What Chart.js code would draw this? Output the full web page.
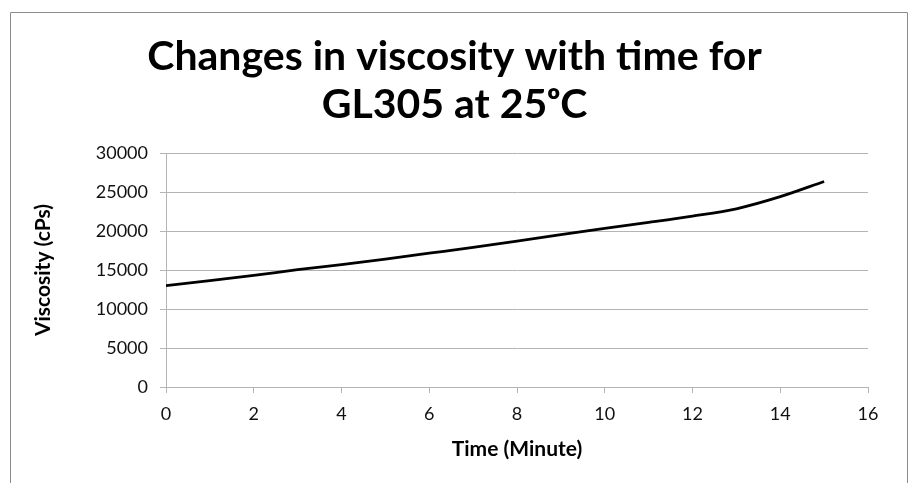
<!DOCTYPE html>
<html>
<head>
<meta charset="utf-8">
<script src="https://cdn.jsdelivr.net/npm/chart.js@4"></script>
<style>
  html, body { margin: 0; padding: 0; background: #fff; }
  #wrap { width: 909px; height: 483px; }
</style>
</head>
<body>
<div id="wrap"><canvas id="viscChart" width="909" height="483"></canvas></div>
<script>
// Viscosity of GL305 at 25 C
const timeMin = [0, 1, 2, 3, 4, 5, 6, 7, 8, 9, 10, 11, 12, 13, 14, 15];
const viscosity = [13000, 13650, 14300, 15050, 15700, 16400, 17150, 17900, 18700, 19550, 20350, 21100, 21900, 22850, 24400, 26350];
const xTicks = [0, 2, 4, 6, 8, 10, 12, 14, 16];
const yTicks = [0, 5000, 10000, 15000, 20000, 25000, 30000];

const points = timeMin.map((t, i) => ({ x: t, y: viscosity[i] }));

// thin grey frame round the whole chart (bottom edge is off the picture)
const frame = {
  id: "frame",
  beforeDraw(chart) {
    const c = chart.ctx;
    c.save();
    c.strokeStyle = "#8c8c8c";
    c.lineWidth = 1;
    c.beginPath();
    c.moveTo(10.5, 490);
    c.lineTo(10.5, 12.5);
    c.lineTo(907.5, 12.5);
    c.lineTo(907.5, 490);
    c.stroke();
    c.restore();
  }
};

const gridGrey = "#b4b4b4";
const tickFont = { family: "Lato", size: 18 };
const axisTitleFont = { family: "Lato", size: 21, weight: "bold" };

new Chart(document.getElementById("viscChart"), {
  type: "scatter",
  data: {
    datasets: [{
      data: points,
      showLine: true,
      borderColor: "#000",
      borderWidth: 2.8,
      pointRadius: 0,
      cubicInterpolationMode: "monotone"
    }]
  },
  options: {
    responsive: false,
    animation: false,
    layout: { padding: 0 },
    plugins: {
      legend: { display: false },
      tooltip: { enabled: false },
      title: {
        display: true,
        text: ["Changes in viscosity with time for", "GL305 at 25\u1D52C"],
        color: "#000",
        font: { family: "Lato", size: 41, weight: "bold", lineHeight: "48px" },
        padding: { top: 33, bottom: 24 }
      }
    },
    scales: {
      x: {
        type: "linear",
        min: 0,
        max: 16,
        afterFit(scale) { scale.height = 96; },
        afterBuildTicks(scale) { scale.ticks = xTicks.map(v => ({ value: v })); },
        grid: { drawOnChartArea: false, drawTicks: true, tickLength: 6, color: gridGrey },
        border: { color: gridGrey },
        ticks: { color: "#111", padding: 10, font: tickFont, callback: v => String(v) },
        title: {
          display: true,
          text: "Time (Minute)",
          color: "#000",
          font: axisTitleFont,
          padding: { top: 0, bottom: 21 }
        }
      },
      y: {
        min: 0,
        max: 30000,
        afterFit(scale) { scale.width = 166; },
        afterBuildTicks(scale) { scale.ticks = yTicks.map(v => ({ value: v })); },
        grid: { color: gridGrey, tickLength: 6 },
        border: { color: gridGrey },
        ticks: { color: "#111", padding: 12, font: tickFont, callback: v => String(v) },
        title: {
          display: true,
          text: "Viscosity (cPs)",
          color: "#000",
          font: axisTitleFont,
          padding: { top: 31, bottom: 0 }
        }
      },
      // empty right margin so the title centres on the whole frame
      yPad: {
        position: "right",
        min: 0,
        max: 1,
        afterFit(scale) { scale.width = 41; },
        grid: { display: false },
        border: { display: false },
        ticks: { display: false }
      }
    }
  },
  plugins: [frame]
});
</script>
</body>
</html>
